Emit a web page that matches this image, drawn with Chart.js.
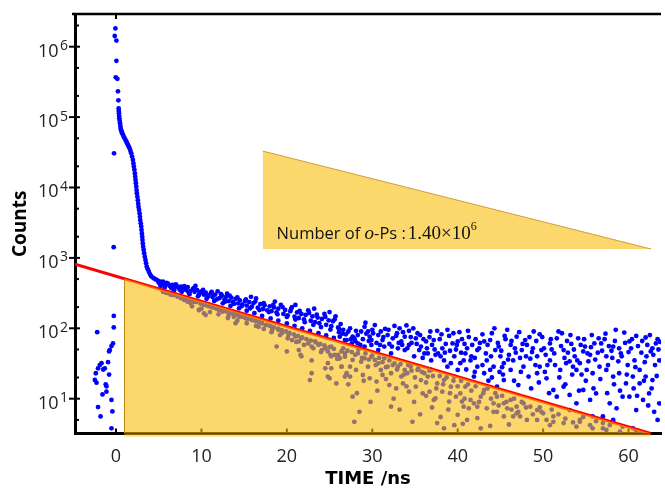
<!DOCTYPE html>
<html>
<head>
<meta charset="utf-8">
<script src="https://cdn.jsdelivr.net/npm/chart.js@4.4.0/dist/chart.umd.min.js"></script>
<style>
  html, body { margin: 0; padding: 0; background: #fff; }
  canvas { display: block; }
</style>
</head>
<body>
<canvas id="myChart" width="665" height="490"></canvas>
<script>
// ---- data: [time (ns), counts] ----
const prePulse = [
  [-0.26,150],[-0.26,103],[-2.2,88],[-0.35,61],[-0.53,56],[-0.73,49],[-0.81,47],[-0.93,33],
  [-1.7,32],[-1.9,30],[-1.31,27],[-1.5,26],[-2.1,27],[-2.36,23],[-0.81,22],[-2.48,18.5],
  [-2.28,16.9],[-1.2,16],[-1.12,15],[-1.12,12.6],[-1.58,11.5],[-0.53,9.6],[-2.1,7.6],
  [-0.42,6.6],[-1.81,5.6],[-0.53,3.8]
];

const promptPeak = [
  [-0.07,1.82e6],[-0.15,1.42e6],[0.05,1.22e6],[0.05,6.3e5],[-0.03,3.67e5],[0.16,3.5e5],
  [0.23,2.32e5],[0.28,1.73e5],[0.31,1.33e5],[0.33,1.22e5],[0.35,1.13e5],[0.37,1.04e5],
  [0.39,9.6e4],[0.43,8.9e4],[0.47,8.2e4],[0.51,7.5e4],[0.55,6.9e4],[0.6,6.5e4],[0.66,6.2e4],
  [0.73,5.9e4],[0.81,5.6e4],[0.9,5.3e4],[1.01,5.0e4],[1.1,4.75e4],[1.21,4.5e4],[1.3,4.25e4],
  [1.4,4.0e4],[1.5,3.8e4],[1.59,3.6e4],[1.69,3.3e4],[1.79,3.06e4],[1.88,2.75e4],[1.98,2.46e4],
  [2.04,2.2e4],[2.09,1.98e4],[2.15,1.78e4],[2.21,1.59e4],[2.25,1.43e4],[2.29,1.28e4],
  [2.33,1.15e4],[2.37,1.03e4],[2.41,9.2e3],[2.44,8.3e3],[2.5,7.4e3],[2.56,6.6e3],[2.6,5.9e3],
  [2.64,5.3e3],[2.7,4.8e3],[2.76,4.3e3],[2.8,3.85e3],[2.84,3.45e3],[2.9,3.1e3],[2.95,2.8e3],
  [2.99,2.5e3],[3.03,2.23e3],[3.07,2.0e3],[3.1,1.8e3],[3.14,1.6e3],[3.18,1.44e3],[3.24,1.3e3],
  [3.3,1.16e3],[3.37,1.04e3],[3.45,933],[3.52,840],[3.6,750],[3.72,690],[3.84,637],[3.97,590],
  [4.1,553],[4.3,525],[4.5,507],[4.7,490],[4.88,475],[5.1,462],[5.47,445],
  [-0.23,3.06e4],[-0.27,1.42e3]
];

// raw counts of the tail (blue, mostly above the fit)
const rawTail = [
  [5.0,445],[5.3,420],[5.5,460],[5.8,410],[6.1,432],[6.3,398],[6.6,415],[6.9,380],[7.1,402],
  [7.4,366],[7.6,390],[7.9,372],[8.2,350],[8.4,385],[8.7,338],[9.0,360],[9.2,330],[9.5,348],
  [9.8,312],[10.0,335],[10.3,300],[10.5,322],[10.8,290],[11.1,315],[11.3,278],[11.6,300],
  [11.9,335],[12.1,268],[12.4,290],[12.7,255],[12.9,280],[13.2,244],[13.5,272],[13.7,236],
  [14.0,262],[14.3,226],[14.5,250],[14.8,218],[15.1,244],[15.3,210],[15.6,236],[15.9,203],
  [16.1,228],[16.4,265],[16.6,196],[16.9,220],[17.2,188],[17.4,212],[17.7,180],[18.0,205],
  [18.2,175],[18.5,198],[18.8,168],[19.0,190],[19.3,215],[19.6,160],[19.8,182],[20.1,152],
  [20.4,175],[20.6,200],[20.9,146],[21.2,168],[21.4,140],[21.7,160],[22.0,134],[22.2,155],
  [22.5,180],[22.8,128],[23.0,148],[23.3,122],[23.6,142],[23.8,118],[24.1,136],[24.4,160],
  [24.6,112],[24.9,130],[25.2,107],[25.4,126],[25.7,148],[26.0,103],
  [5.7,380],[6.8,345],[7.7,330],[8.6,305],[9.6,285],[10.6,262],[11.5,245],[12.5,226],[13.4,208],
  [14.4,192],[15.3,178],[16.2,164],[17.1,150],[18.1,138],[19.0,128],[20.0,117],[20.9,108],
  [21.8,100],[22.7,92],[23.7,85],[24.6,79],[25.5,73],
  [9.3,400],[13.0,310],[15.8,280],[18.6,240],[21.0,215],[23.2,190],[25.0,170],
  [5.2,400],[5.9,440],[6.5,372],[7.0,420],[7.5,350],[8.0,398],[8.5,325],[9.1,372],[9.7,298],
  [10.2,350],[10.7,276],[11.2,330],[11.8,258],[12.3,305],[12.8,240],[13.3,290],[13.8,222],
  [14.2,275],[14.7,206],[15.2,258],[15.7,192],[16.3,240],[16.8,182],[17.3,228],[17.9,170],
  [18.4,215],[18.9,158],[19.5,200],[20.0,145],[20.5,188],[21.0,133],[21.5,176],[22.1,122],
  [22.6,165],[23.1,112],[23.5,156],[24.0,104],[24.5,145],[25.1,96],[25.6,134],[26.1,88],
  [26.3,115],[26.6,95],[27.2,90],[27.7,76],[28.3,80],[29.1,105],[29.7,76],[30.3,111],[30.7,80],
  [31.2,68],[31.8,80],[32.6,108],[33.2,100],[33.8,76],[34.3,92],[35.1,72],[35.7,55],[36.3,65],
  [37.0,58],[37.6,92],[38.2,52],[38.8,95],[39.4,61],[40.0,65],[40.5,70],[41.1,52],[41.7,58],
  [42.3,49],[43.1,65],[43.8,68],[44.4,49],[45.0,40],[45.8,95],[46.2,58],[46.9,76],[47.5,49],
  [48.1,58],[48.9,90],[49.3,40],[49.8,49],[50.8,61],[51.6,72],[52.4,49],[53.1,34],[53.9,25.6],
  [54.7,47],[55.5,42],[56.0,61],[56.8,61],[57.4,40],[58.2,55],[58.8,34],[59.5,87],[60.1,65],
  [60.7,35],[61.3,25.6],[62.0,74],[62.6,47],[63.2,61],[63.6,35],
  [40.0,25.6],[40.7,35],[41.9,20.6],[43.1,23],[43.8,25.6],[44.6,14.8],[45.4,18.4],[46.2,25.6],
  [47.1,15.6],[48.3,20.6],[49.3,23],[50.4,19.5],[51.2,13.3],[51.6,10.7],[52.4,14.8],[53.1,11.3],
  [53.9,8.6],[54.7,13.3],[55.5,9.6],[56.2,11.9],[57.0,5.6],[57.8,8.6],[58.6,7.3],[59.3,10.7],
  [60.1,10.7],[60.9,6.9],[61.7,9.6],[62.4,11.9],[63.0,6.5],[63.4,5.0],[63.6,8.6],
  [33.8,49],[34.9,40],[36.1,44],[36.9,35],[38.0,40],[38.8,28.5],[39.6,40],[40.3,32],[41.5,35],
  [42.3,28.5],[43.4,35],[44.2,28.5],[45.4,32],[46.5,35],[47.7,28.5],[48.5,37],[49.6,28.5],
  [50.8,35],[52.0,25.6],[52.7,32],[53.5,28.5],[54.3,32],[55.1,25.6],[55.8,23],[56.6,28.5],
  [57.4,25.6],[58.2,20.6],[58.9,23],[59.7,16.5],[60.5,20.6],[61.3,16.5],[62.0,20.6],[62.8,18.4],
  [26.8,68],[27.6,61],[28.3,61],[29.1,55],[29.9,58],[30.7,49],[31.4,55],[32.2,44],[33.0,52],
  [29.9,68],[31.0,90],[32.4,72],[33.4,65],[34.3,58],[35.5,49],[36.5,44],[37.4,42],[38.4,35],
  [39.2,32],[26.2,76],[27.0,68],[27.9,72],[28.7,90],[29.5,90],
  [26.5,84],[27.4,100],[28.0,66],[28.9,70],[29.3,84],[30.0,95],[30.5,62],[31.5,98],[32.0,60],
  [32.9,85],[33.5,58],[34.0,110],[34.6,62],[35.3,85],[35.9,38],[36.7,75],[37.3,50],[37.9,70],
  [38.5,45],[39.0,78],[39.8,50],[40.2,88],[40.9,44],[41.3,75],[42.0,38],[42.6,62],[43.3,44],
  [44.0,85],[44.8,55],[45.2,28],[45.6,70],[46.0,42],[46.7,52],[47.3,38],[47.9,68],[48.7,46],
  [49.1,30],[49.9,75],[50.3,42],[51.0,50],[51.4,30],[52.2,85],[52.9,45],[53.3,60],[53.7,40],
  [54.1,72],[54.5,22],[54.9,55],[55.3,34],[55.7,80],[56.4,45],[57.2,70],[57.6,30],[58.0,48],
  [58.4,66],[59.1,44],[59.9,30],[60.3,52],[60.9,78],[61.5,45],[61.9,33],[62.2,58],[62.9,42],
  [63.4,70],
  [26.1,98],[26.9,82],[27.5,70],[28.1,92],[28.6,58],[29.2,120],[29.6,66],[30.1,85],[30.9,58],
  [31.3,75],[31.9,95],[32.3,55],[32.8,78],[33.1,62],[33.6,88],[34.1,52],[34.5,75],[34.8,100],
  [35.2,60],[35.6,80],[36.0,70],[36.4,52],[36.8,90],[37.2,68],[37.7,44],[38.1,82],[38.6,60],
  [39.1,48],[39.5,85],[39.9,58],[40.4,45],[40.8,60],[41.2,92],[41.6,40],[42.1,70],[42.5,52],
  [42.9,82],[43.5,58],[43.9,40],[44.3,100],[44.7,62],[45.1,48],[45.5,78],[45.9,36],[46.3,66],
  [46.8,45],[47.2,88],[47.6,60],[48.0,40],[48.4,75],[48.8,52],[49.2,66],[49.6,82],[50.1,52],
  [50.5,30],[50.9,70],[51.3,44],[51.8,90],[52.1,56],[52.5,38],[52.8,66],[53.2,80],[53.6,50],
  [54.0,35],[54.4,58],[54.8,70],[55.2,44],[55.6,54],[56.1,36],[56.5,72],[56.9,48],[57.3,84],
  [57.7,56],[58.1,38],[58.5,95],[58.9,52],[59.2,40],[59.6,62],[60.0,46],[60.4,70],[60.8,28],
  [61.1,56],[61.6,66],[62.1,40],[62.5,80],[62.8,52],[63.1,30],[63.5,50],[63.7,64],
  [45.3,22],[46.6,18],[47.4,24],[48.6,14],[49.5,17],[50.2,24],[50.7,12],[51.9,20],[52.6,16],
  [53.4,22],[54.2,13],[55.0,18],[55.9,14],[56.7,19],[57.5,12],[58.3,16],[59.0,13],[59.8,22],
  [60.6,14],[61.0,11],[61.8,18],[62.3,8],[62.7,14],[63.3,21],
  [41.0,26],[42.0,24],[42.9,30],[44.0,20],[44.9,24],[43.6,18]
];

// background-subtracted counts (same blue, seen through the o-Ps area)
const netTail = [
  [5.86,320],[6.24,314],[6.63,297],[7.21,281],[7.6,267],[7.99,252],[8.38,239],[8.76,226],
  [9.15,239],[9.73,182],[10.3,163],[10.5,214],[11.1,203],[11.67,192],[12.06,182],[12.45,172],
  [13.2,154],[13.8,146],[14.0,165],
  [13.6,163],[14.4,146],[15.2,138],[15.9,131],[16.7,124],[17.5,111],[18.3,105],[19.0,95],
  [19.4,85],[20.2,80],[20.6,68],[21.0,76],[21.4,65],[21.7,72],[22.5,61],[22.9,55],[23.3,65],
  [23.7,58],[24.1,49],[24.5,52],[24.8,47],[25.2,55],[25.6,42],[26.0,40],[26.4,47],[26.8,44],
  [18.8,55],[20.0,47],[21.6,42],[22.9,35],[24.5,27],[24.8,32],[26.0,37],[26.4,28.5],[26.8,20.6],
  [24.8,20.6],[22.9,23],
  [9.7,182],[10.5,154],[14.0,118],[16.7,105],[18.3,95],[21.4,49],[21.7,40],[25.2,27],[22.7,18.4],
  [25.0,19.5],[25.8,16.5],[27.0,22],[25.2,40],[26.0,42],
  [5.5,330],[6.0,318],[6.4,300],[6.9,296],[7.4,282],[7.8,270],[8.2,262],[8.6,250],[9.0,243],
  [9.4,236],[9.9,224],[10.3,215],[10.8,206],[11.3,198],[11.8,190],[12.2,185],[12.7,177],
  [13.0,172],[13.4,165],[13.9,158],[14.3,154],[14.7,146],[15.1,142],[15.5,136],[15.9,133],
  [16.3,127],[16.8,121],[17.1,118],[17.6,112],[18.0,108],[18.5,103],[19.0,99],[19.4,94],
  [19.9,90],[20.3,86],[20.8,82],[21.3,78],[21.8,74],[22.3,70],[22.8,67],[23.4,63],[23.9,60],
  [24.4,57],[25.0,54],[25.5,51],
  [8.9,205],[10.0,190],[11.0,170],[12.0,158],[13.1,140],[14.2,128],[15.3,118],[16.4,108],
  [17.3,98],[18.2,88],[19.2,80],[20.1,72],[21.1,64],[22.0,58],[23.1,52],[24.0,46],[25.1,42],
  [25.9,37],
  [26.2,37.4],[26.8,39.5],[27.4,28.5],[27.7,35.5],[28.3,44],[28.7,33.6],[29.1,37.4],[29.5,28.5],
  [29.9,39.5],[30.3,35.5],[30.7,31.8],[31.0,25.6],[31.4,37.4],[31.8,28.5],[32.2,23],[32.6,31.8],
  [33.0,28.5],[33.4,20.6],[33.8,25.6],[34.1,23],[34.5,28.5],[35.3,25.6],[35.7,18.4],[36.1,23],
  [36.5,20.6],[36.9,25.6],[37.6,16.5],[38.4,18.4],[39.2,14.8],[39.6,20.6],[40.3,11.9],[40.9,14.8],
  [41.5,9.6],[42.7,10.7],[43.1,13.3],[44.2,8.6],[44.6,10.7],[45.4,8.6],[46.2,9.6],[46.9,7.7],
  [47.7,8.6],[49.3,6.9],[50.0,6.2],[51.2,5.6],[53.1,6.9],[54.3,5.0],[55.8,5.6],[57.0,4.5],
  [58.2,5.0],[59.3,4.0],[60.5,3.8],
  [27.7,10.7],[28.5,6.5],[27.9,4.7],[32.2,7.7],[34.7,4.7],[37.2,9.6],[37.6,4.5],[38.4,3.8],
  [40.0,5.9],[40.7,7.7],[41.1,5.0],[41.9,8.6],[42.7,3.8],[44.2,6.5],[45.4,5.6],[46.5,5.6],
  [47.3,5.6],[48.5,7.7],[49.8,6.5],[51.2,4.7],[54.3,4.7],[55.8,3.8],[57.8,4.2],[58.2,4.7],
  [60.9,3.5],
  [26.4,28.5],[27.0,23],[27.4,20.6],[28.1,25.6],[28.9,21.7],[29.7,19.5],[30.5,17.5],[31.2,21.7],
  [32.0,15.6],[32.8,14.0],[33.6,16.5],[34.3,12.6],[35.1,14.8],[35.9,11.9],[36.7,12.6],[37.4,10.1],
  [38.2,12.6],[39.0,9.1],[39.8,10.7],[40.5,9.1],[41.3,7.3],[42.3,7.7],[43.4,7.3],[44.6,6.5],
  [45.8,7.3],[46.9,6.2],[48.1,5.0],[49.3,5.0],[50.8,4.2],[52.4,4.5],[53.9,4.0],[55.5,4.2],
  [57.0,3.8],
  [26.6,52],[27.1,48],[27.6,46],[28.0,42],[28.4,50],[28.8,38],[29.2,44],[29.6,36],[30.0,41],
  [30.4,30],[30.8,38],[31.2,33],[31.6,28],[32.0,35],[32.4,30],[32.9,26],[33.3,31],[33.7,22],
  [34.2,30],[34.6,25],[35.0,20],[35.4,27],[35.8,24],[36.3,17],[36.7,25],[37.1,21],[37.5,14],
  [37.9,21],[38.3,16],[38.7,20],[39.1,12],[39.5,18],[40.0,15],[40.4,18],[40.8,10],[41.2,16],
  [41.6,13],[42.1,15],[42.5,9],[43.0,12],[43.5,14],[43.9,10],[44.4,12],[44.8,8],[45.2,11],
  [45.7,9],[46.3,7],[46.6,10],[47.1,6.5],[47.5,9],[48.0,7.5],[48.8,6],[49.6,7.5],[50.4,5],
  [51.0,7],[51.8,6],[52.6,5.2],[53.5,4.6],[54.7,5.5],[56.2,4.8],[57.4,3.6],[59.0,3.4],[61.5,3.3],
  [27.2,16],[28.2,12],[29.0,18],[29.8,9],[30.6,13],[31.6,19],[32.5,10],[33.2,7],[34.0,15],
  [34.9,9],[35.6,6],[36.3,11],[37.0,7.5],[38.0,5.5],[38.9,7],[39.6,4.2],[40.6,4.4],[42.3,5.3],
  [43.8,4.1],[46.0,4.3]
];

// exponential fit (straight on the log axis) and the o-Ps area under it
const fitLine = [[-4.8, 811], [62.6, 3.2]];
const opsArea = [[1.0, 504], [62.6, 3.2]];
const opsLeftEdge = [[1.0, 504], [1.0, 3.2]];
const opsBase = [[1.0, 3.05], [62.6, 3.05]];
// inset wedge behind the label
const insetArea = [[17.17, 32960], [62.64, 1337]];
const insetBase = 1337;

const xTicks = [0, 10, 20, 30, 40, 50, 60];
const yDecades = [1, 2, 3, 4, 5, 6];
const yMinor = [2, 5];

const xMin = -4.8, xMax = 63.8;
const yMin = 3.204, yMax = 2.914e6;

const pts = arr => arr.map(p => ({x: p[0], y: p[1]}));

const dotBlue = 'rgb(0,0,255)';
const fillYellow = 'rgba(250,190,10,0.6)';
const edgeGold = 'rgba(185,135,20,0.75)';

Chart.defaults.font.family = '"Open Sans", sans-serif';

// inner tick marks, top frame, y labels with superscripts, inset label
const frameAndLabels = {
  id: 'frameAndLabels',
  beforeDatasetsDraw(chart) {
    const {ctx, chartArea: a, scales: {x, y}} = chart;
    ctx.save();
    ctx.strokeStyle = '#000';
    ctx.lineWidth = 2.6;
    ctx.beginPath();
    ctx.moveTo(a.left - 3, a.top);
    ctx.lineTo(a.right, a.top);
    ctx.stroke();

    ctx.lineWidth = 2;
    xTicks.forEach(v => {
      const px = x.getPixelForValue(v);
      ctx.beginPath();
      ctx.moveTo(px, a.bottom);
      ctx.lineTo(px, a.bottom - 5);
      ctx.stroke();
    });
    const p0 = x.getPixelForValue(0);
    ctx.beginPath();
    ctx.moveTo(p0, a.top);
    ctx.lineTo(p0, a.top + 5);
    ctx.stroke();

    for (let k = 0; k <= 6; k++) {
      yMinor.forEach(m => {
        const v = m * Math.pow(10, k);
        if (v < yMin || v > yMax) return;
        const py = y.getPixelForValue(v);
        ctx.beginPath();
        ctx.moveTo(a.left, py);
        ctx.lineTo(a.left + 4, py);
        ctx.stroke();
      });
    }
    yDecades.forEach(k => {
      const py = y.getPixelForValue(Math.pow(10, k));
      ctx.beginPath();
      ctx.moveTo(a.left - 6, py);
      ctx.lineTo(a.left + 5, py);
      ctx.stroke();
    });

    // y tick labels: 10^k
    ctx.fillStyle = '#222';
    ctx.textBaseline = 'alphabetic';
    yDecades.forEach(k => {
      const py = y.getPixelForValue(Math.pow(10, k));
      const supRight = a.left - 7;
      ctx.font = '14px "Open Sans"';
      const sw = ctx.measureText(String(k)).width;
      ctx.textAlign = 'left';
      ctx.fillText(String(k), supRight - sw, py + 3.5);
      ctx.font = '18px "Open Sans"';
      ctx.textAlign = 'right';
      ctx.fillText('10', supRight - sw - 1.5, py + 9.8);
    });
    ctx.restore();
  },
  afterDatasetsDraw(chart) {
    const {ctx, scales: {x, y}} = chart;
    ctx.save();
    ctx.fillStyle = '#111';
    ctx.textAlign = 'left';
    ctx.textBaseline = 'alphabetic';
    let px = x.getPixelForValue(18.8);
    const base = y.getPixelForValue(1830);
    const parts = [
      ['Number of ', '16.5px "Open Sans"', 0],
      ['o', 'italic 19px "Liberation Serif"', 0],
      ['-Ps :', '16.5px "Open Sans"', 0],
      ['1.40\u00d710', '19px "Liberation Serif"', 0],
      ['6', '12px "Liberation Serif"', -9]
    ];
    parts.forEach(([t, f, dy]) => {
      ctx.font = f;
      ctx.fillText(t, px, base + dy);
      px += ctx.measureText(t).width + (t === '-Ps :' ? 2 : 0);
    });
    ctx.restore();
  }
};

const config = {
  type: 'scatter',
  data: {
    datasets: [
      {
        label: 'o-Ps area',
        data: pts(opsArea),
        showLine: true,
        fill: 'start',
        backgroundColor: fillYellow,
        borderColor: edgeGold,
        borderWidth: 0,
        pointRadius: 0,
        order: 0
      },
      {
        label: 'o-Ps area edge',
        data: pts(opsLeftEdge),
        showLine: true,
        fill: false,
        borderColor: edgeGold,
        borderWidth: 1,
        pointRadius: 0,
        order: 0
      },
      {
        label: 'o-Ps area base',
        data: pts(opsBase),
        showLine: true,
        fill: false,
        borderColor: fillYellow,
        borderWidth: 3,
        pointRadius: 0,
        clip: {left: 0, top: 0, right: 0, bottom: 4},
        order: 0
      },
      {
        label: 'inset',
        data: pts(insetArea),
        showLine: true,
        fill: {value: insetBase},
        backgroundColor: fillYellow,
        borderColor: edgeGold,
        borderWidth: 1,
        pointRadius: 0,
        order: 0
      },
      {
        label: 'fit',
        data: pts(fitLine),
        showLine: true,
        fill: false,
        borderColor: 'rgb(255,0,0)',
        borderWidth: 3,
        pointRadius: 0,
        order: 1
      },
      {
        label: 'net counts',
        data: pts(netTail),
        backgroundColor: dotBlue,
        pointRadius: 2.4,
        pointBorderWidth: 0,
        order: 2
      },
      {
        label: 'counts',
        data: pts(prePulse.concat(promptPeak, rawTail)),
        backgroundColor: dotBlue,
        pointRadius: 2.4,
        pointBorderWidth: 0,
        order: 3
      }
    ]
  },
  options: {
    responsive: false,
    devicePixelRatio: 1,
    animation: false,
    layout: { padding: {top: 14, left: 0, right: 0, bottom: 0} },
    scales: {
      x: {
        type: 'linear',
        min: xMin,
        max: xMax,
        afterBuildTicks: s => { s.ticks = xTicks.map(v => ({value: v})); },
        afterFit: s => { s.height = 56.5; },
        ticks: { font: {size: 18}, color: '#222', padding: 13, maxRotation: 0 },
        grid: { drawOnChartArea: false, drawTicks: false },
        border: { display: true, width: 3, color: '#000' },
        title: {
          display: true,
          text: 'TIME /ns',
          color: '#000',
          font: {family: '"DejaVu Sans", sans-serif', weight: 'bold', size: 18},
          padding: {top: 0, bottom: 0}
        }
      },
      y: {
        type: 'logarithmic',
        min: yMin,
        max: yMax,
        afterFit: s => { s.width = 75; },
        ticks: { display: false },
        grid: { drawOnChartArea: false, drawTicks: false },
        border: { display: true, width: 3, color: '#000' },
        title: {
          display: true,
          text: 'Counts',
          color: '#000',
          font: {family: '"Open Sans", sans-serif', weight: 'bold', size: 19},
          padding: {top: 9, bottom: 0}
        }
      }
    },
    plugins: {
      legend: { display: false },
      tooltip: { enabled: false }
    }
  },
  plugins: [frameAndLabels]
};

const myChart = new Chart(document.getElementById('myChart'), config);
</script>
</body>
</html>
